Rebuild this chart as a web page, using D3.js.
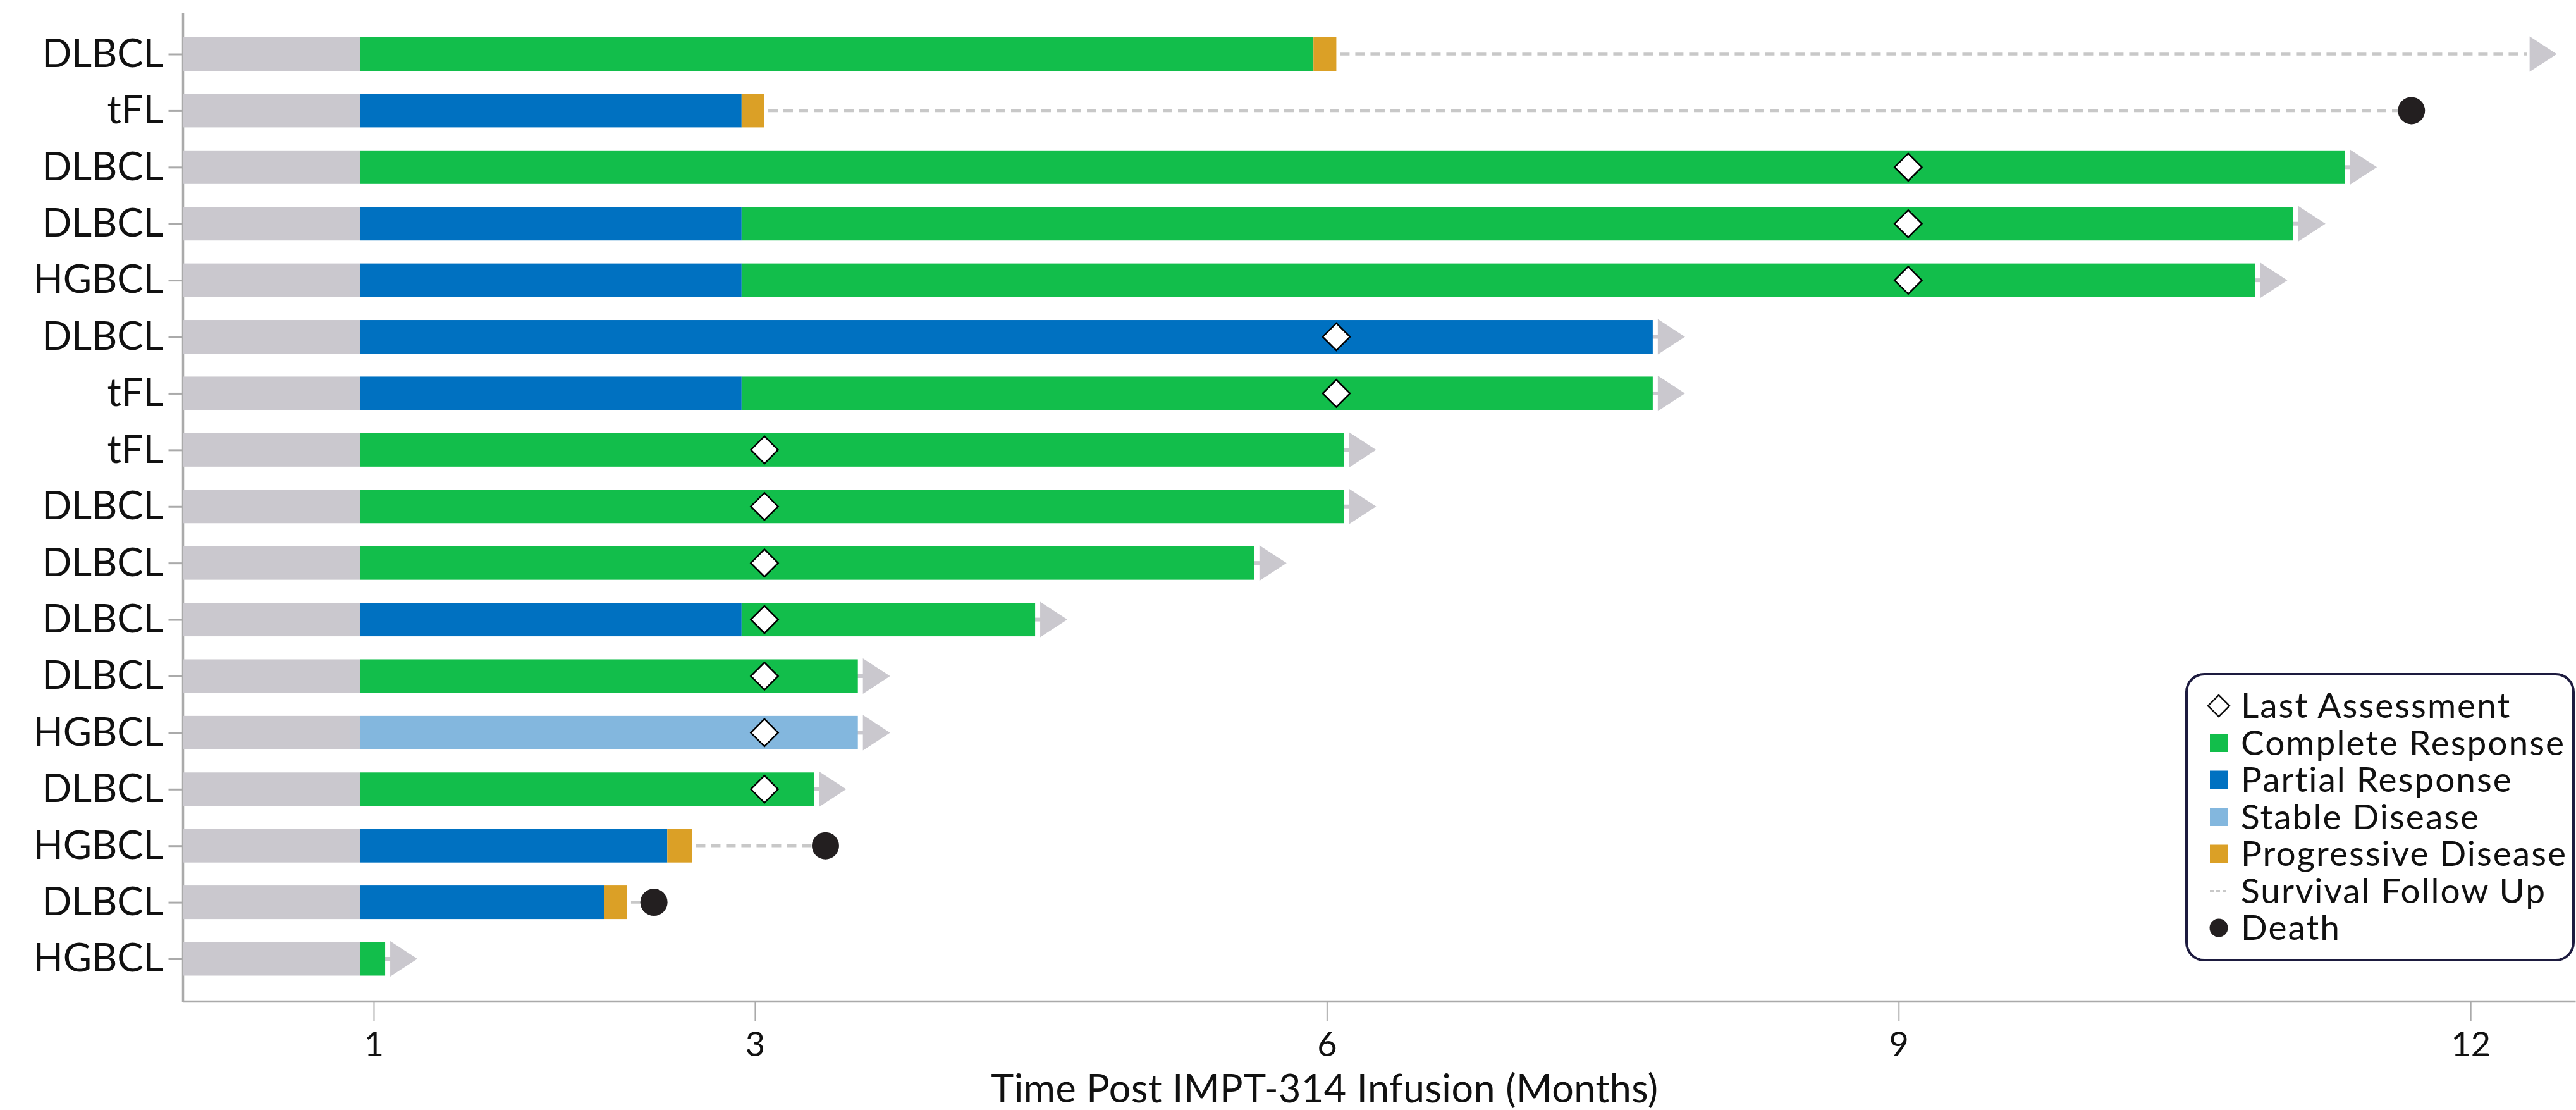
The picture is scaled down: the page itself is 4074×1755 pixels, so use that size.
<!DOCTYPE html>
<html>
<head>
<meta charset="utf-8">
<script src="https://cdn.jsdelivr.net/npm/d3@7"></script>
<style>
  body { margin: 0; background: #fff; }
  svg { display: block; }
  text { font-family: Lato, "Noto Sans", sans-serif; fill: #111; }
</style>
</head>
<body>
<svg id="chart" width="4074" height="1755"></svg>
<script>
// One row per patient, top to bottom
const histology = ["DLBCL", "tFL", "DLBCL", "DLBCL", "HGBCL", "DLBCL", "tFL", "tFL", "DLBCL",
                   "DLBCL", "DLBCL", "DLBCL", "HGBCL", "DLBCL", "HGBCL", "DLBCL", "HGBCL"];

// Time of first response assessment (months); grey segment before it
const firstAssessment = [0.93, 0.93, 0.93, 0.93, 0.93, 0.93, 0.93, 0.93, 0.93,
                         0.93, 0.93, 0.93, 0.93, 0.93, 0.93, 0.93, 0.93];

// Consecutive response states and the month each one ends
const responseCodes = [["CR", "PD"], ["PR", "PD"], ["CR"], ["PR", "CR"], ["PR", "CR"], ["PR"],
                       ["PR", "CR"], ["CR"], ["CR"], ["CR"], ["PR", "CR"], ["CR"], ["SD"], ["CR"],
                       ["PR", "PD"], ["PR", "PD"], ["CR"]];
const responseEnds = [[5.93, 6.05], [2.93, 3.05], [11.34], [2.93, 11.07], [2.93, 10.87], [7.71],
                      [2.93, 7.71], [6.09], [6.09], [5.62], [2.93, 4.47], [3.54], [3.54], [3.31],
                      [2.54, 2.67], [2.21, 2.33], [1.06]];

// Month of the last response assessment (diamond)
const lastAssessment = [null, null, 9.05, 9.05, 9.05, 6.05, 6.05, 3.05, 3.05, 3.05, 3.05, 3.05,
                        3.05, 3.05, null, null, null];

// Survival follow-up after progression (months) and vital status
const survivalEnd = [12.31, 11.69, null, null, null, null, null, null, null, null, null, null,
                     null, null, 3.37, 2.47, null];
const vitalStatus = ["alive", "dead", "alive", "alive", "alive", "alive", "alive", "alive", "alive",
                     "alive", "alive", "alive", "alive", "alive", "dead", "dead", "alive"];

const xTicks = [1, 3, 6, 9, 12];
const legendLabels = ["Last Assessment", "Complete Response", "Partial Response", "Stable Disease",
                      "Progressive Disease", "Survival Follow Up", "Death"];
const legendKinds = ["diamond", "CR", "PR", "SD", "PD", "dash", "death"];

const colors = { CR: "#12be4b", PR: "#0071c1", SD: "#83b7de", PD: "#dba026", pre: "#cac8ce" };
const axisGrey = "#aaaaaa";
const dashGrey = "#c8c8c8";

const svg = d3.select("#chart");
const W = 4074, H = 1755;
svg.append("rect").attr("width", W).attr("height", H).attr("fill", "#fff");

const axisTop = 21, axisBottom = 1583;
const x = d3.scaleLinear().domain([0, 12.55]).range([289.5, 4073]);
const y = d3.scalePoint().domain(d3.range(histology.length)).range([85.5, 1516]);
const barH = 53;
const arrowLen = 43, arrowHalf = 28, arrowGap = 8;

// Axes
const yAxis = d3.axisLeft(y).tickSize(23).tickPadding(8).tickFormat(i => histology[i]);
const gy = svg.append("g").attr("transform", `translate(${x(0)},0)`).call(yAxis);
gy.select(".domain").remove();
gy.selectAll(".tick line").attr("stroke", axisGrey).attr("stroke-width", 3);
gy.selectAll(".tick text").attr("font-size", 62).attr("fill", "#111")
  .attr("font-family", "Lato, 'Noto Sans', sans-serif");

svg.append("line")
  .attr("x1", x(0)).attr("x2", x(0)).attr("y1", axisTop).attr("y2", axisBottom + 1.5)
  .attr("stroke", axisGrey).attr("stroke-width", 3.5);

const xAxis = d3.axisBottom(x).tickValues(xTicks).tickSize(32).tickSizeOuter(0).tickPadding(17)
  .tickFormat(d3.format("d"));
const gx = svg.append("g").attr("transform", `translate(0,${axisBottom})`).call(xAxis);
gx.select(".domain").attr("stroke", axisGrey).attr("stroke-width", 3.5);
gx.selectAll(".tick line").attr("stroke", axisGrey).attr("stroke-width", 2);
gx.selectAll(".tick text").attr("font-size", 54).attr("fill", "#111")
  .attr("font-family", "Lato, 'Noto Sans', sans-serif");

svg.append("text")
  .attr("x", 2095).attr("y", 1743)
  .attr("text-anchor", "middle").attr("font-size", 61).attr("letter-spacing", 0.5)
  .text("Time Post IMPT-314 Infusion (Months)");

// Rows
const rows = svg.append("g");
histology.forEach((h, i) => {
  const cy = y(i);
  const g = rows.append("g");
  const ends = responseEnds[i];
  const barEnd = ends[ends.length - 1];
  const alive = vitalStatus[i] === "alive";
  const fu = survivalEnd[i];

  // connector from bar end to the ongoing arrow
  let arrowBase = null;
  if (alive) {
    arrowBase = fu != null ? x(fu) : x(barEnd) + arrowGap;
    if (fu == null) {
      g.append("line")
        .attr("x1", x(barEnd) - 2).attr("x2", arrowBase + 2)
        .attr("y1", cy).attr("y2", cy)
        .attr("stroke", colors.pre).attr("stroke-width", 6);
    }
  }

  // survival follow-up
  if (fu != null) {
    g.append("line")
      .attr("x1", x(barEnd) + 6).attr("x2", alive ? x(fu) - 4 : x(fu))
      .attr("y1", cy).attr("y2", cy)
      .attr("stroke", dashGrey).attr("stroke-width", 4.5)
      .attr("stroke-dasharray", "15,9");
  }

  // pre-assessment segment
  g.append("rect")
    .attr("x", x(0)).attr("width", x(firstAssessment[i]) - x(0))
    .attr("y", cy - barH / 2).attr("height", barH)
    .attr("fill", colors.pre);

  // response segments
  let start = firstAssessment[i];
  responseCodes[i].forEach((code, k) => {
    const end = ends[k];
    g.append("rect")
      .attr("x", x(start)).attr("width", x(end) - x(start))
      .attr("y", cy - barH / 2).attr("height", barH)
      .attr("fill", colors[code]);
    start = end;
  });

  // ongoing arrow or death marker
  if (alive) {
    g.append("path")
      .attr("d", `M${arrowBase},${cy - arrowHalf} L${arrowBase + arrowLen},${cy} L${arrowBase},${cy + arrowHalf} Z`)
      .attr("fill", colors.pre);
  } else {
    g.append("circle")
      .attr("cx", x(fu)).attr("cy", cy).attr("r", 21.5)
      .attr("fill", "#231f20");
  }

  // last assessment
  if (lastAssessment[i] != null) {
    g.append("path")
      .attr("d", d3.symbol(d3.symbolSquare, 30.5 * 30.5)())
      .attr("transform", `translate(${x(lastAssessment[i])},${cy}) rotate(45)`)
      .attr("fill", "#fff").attr("stroke", "#000").attr("stroke-width", 2.5);
  }
});

// Legend
const lg = svg.append("g");
lg.append("rect")
  .attr("x", 3458).attr("y", 1066).attr("width", 612).attr("height", 452)
  .attr("rx", 28).attr("ry", 28)
  .attr("fill", "#fff").attr("stroke", "#1d1b3f").attr("stroke-width", 4);

const ly = d3.scalePoint().domain(d3.range(legendLabels.length)).range([1116, 1467]);
const symX = 3509;
legendLabels.forEach((label, i) => {
  const cy = ly(i);
  const kind = legendKinds[i];
  if (kind === "diamond") {
    lg.append("path")
      .attr("d", d3.symbol(d3.symbolSquare, 24 * 24)())
      .attr("transform", `translate(${symX},${cy}) rotate(45)`)
      .attr("fill", "#fff").attr("stroke", "#111").attr("stroke-width", 2.5);
  } else if (kind === "dash") {
    lg.append("line")
      .attr("x1", symX - 14).attr("x2", symX + 14).attr("y1", cy).attr("y2", cy)
      .attr("stroke", dashGrey).attr("stroke-width", 3).attr("stroke-dasharray", "6,4");
  } else if (kind === "death") {
    lg.append("circle").attr("cx", symX).attr("cy", cy).attr("r", 14.5).attr("fill", "#231f20");
  } else {
    lg.append("rect")
      .attr("x", symX - 14).attr("y", cy - 14.5).attr("width", 28).attr("height", 29)
      .attr("fill", colors[kind]);
  }
  lg.append("text")
    .attr("x", 3544).attr("y", cy).attr("dy", "0.35em")
    .attr("font-size", 55).attr("letter-spacing", 2)
    .text(label);
});
</script>
</body>
</html>
